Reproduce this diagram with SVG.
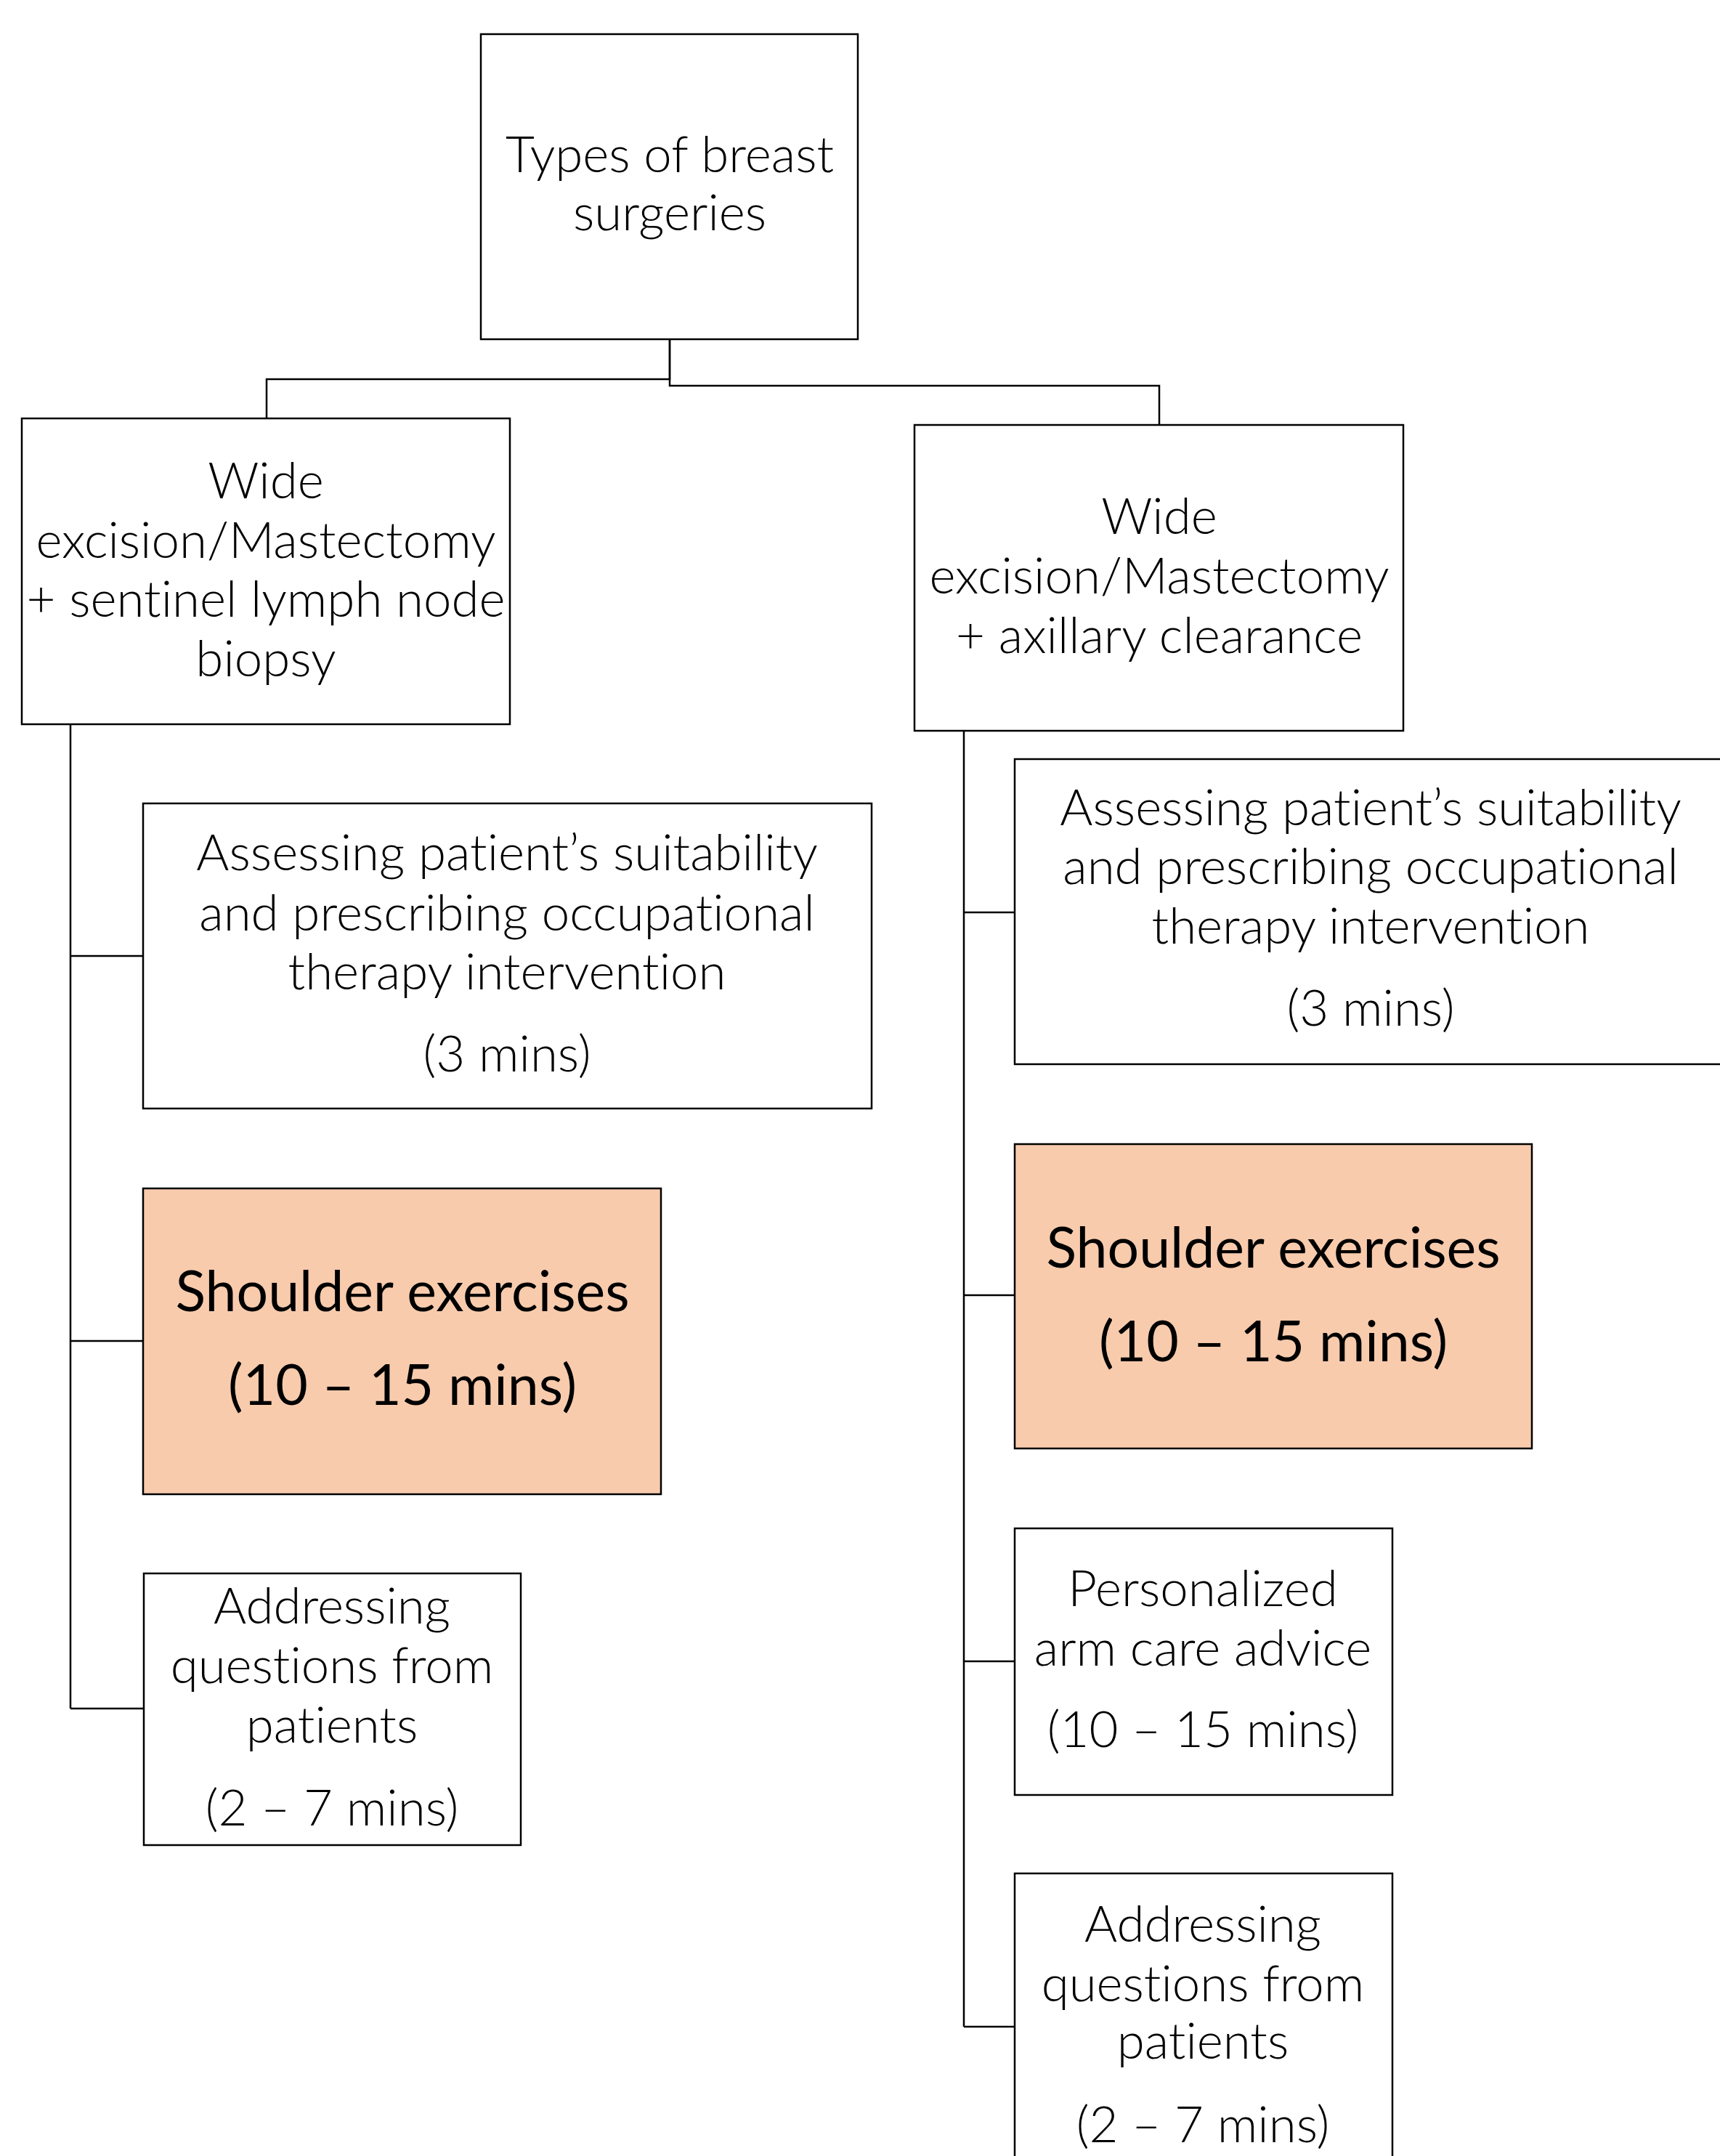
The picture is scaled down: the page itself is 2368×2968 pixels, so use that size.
<svg xmlns="http://www.w3.org/2000/svg" width="2368" height="2968" viewBox="0 0 2368 2968">
<style>
.box{fill:#ffffff;stroke:#000000;stroke-width:2.5}
.hl{fill:#F8CBAD;stroke:#000000;stroke-width:2.5}
.con{fill:none;stroke:#000000;stroke-width:2.5}
text{font-family:Lato,"Liberation Sans",sans-serif;font-weight:300;font-size:69px;fill:#000000;text-anchor:middle;font-variant-ligatures:none}
text.big{font-weight:400;font-size:77px}
</style>
<rect width="2368" height="2968" fill="#ffffff"/>
<g id="connectors">
<path class="con" d="M922,467 V522 H367 V576"/>
<path class="con" d="M922,467 V531 H1596 V585"/>
<path class="con" d="M97,997 V2352"/>
<path class="con" d="M97,1316 H197"/>
<path class="con" d="M97,1846 H197"/>
<path class="con" d="M97,2352 H198"/>
<path class="con" d="M1327,1006 V2790"/>
<path class="con" d="M1327,1256 H1397"/>
<path class="con" d="M1327,1783 H1397"/>
<path class="con" d="M1327,2287 H1397"/>
<path class="con" d="M1327,2790 H1397"/>
</g>
<g id="n-root">
<rect class="box" x="662" y="47" width="519" height="420"/>
<text x="922" y="237">Types of breast</text>
<text x="922" y="317">surgeries</text>
</g>
<g id="n-sln">
<rect class="box" x="30" y="576" width="672" height="421"/>
<text x="366" y="686">Wide</text>
<text x="366" y="768">excision/Mastectomy</text>
<text x="366" y="849">+ sentinel lymph node</text>
<text x="366" y="931">biopsy</text>
</g>
<g id="n-ax">
<rect class="box" x="1259" y="585" width="673" height="421"/>
<text x="1596" y="735">Wide</text>
<text x="1596" y="817">excision/Mastectomy</text>
<text x="1596" y="899">+ axillary clearance</text>
</g>
<g id="n-l-assess">
<rect class="box" x="197" y="1106" width="1003" height="420"/>
<text x="698" y="1198">Assessing patient’s suitability</text>
<text x="698" y="1281">and prescribing occupational</text>
<text x="698" y="1362">therapy intervention</text>
<text x="698" y="1475">(3 mins)</text>
</g>
<g id="n-l-shoulder">
<rect class="hl" x="197" y="1636" width="713" height="421"/>
<text class="big" x="554" y="1805">Shoulder exercises</text>
<text class="big" x="554" y="1934">(10 – 15 mins)</text>
</g>
<g id="n-l-questions">
<rect class="box" x="198" y="2166" width="519" height="374"/>
<text x="457" y="2235">Addressing</text>
<text x="457" y="2317">questions from</text>
<text x="457" y="2399">patients</text>
<text x="457" y="2513">(2 – 7 mins)</text>
</g>
<g id="n-r-assess">
<rect class="box" x="1397" y="1045" width="980" height="420"/>
<text x="1887" y="1136">Assessing patient’s suitability</text>
<text x="1887" y="1217">and prescribing occupational</text>
<text x="1887" y="1299">therapy intervention</text>
<text x="1887" y="1412">(3 mins)</text>
</g>
<g id="n-r-shoulder">
<rect class="hl" x="1397" y="1575" width="712" height="419"/>
<text class="big" x="1753" y="1745">Shoulder exercises</text>
<text class="big" x="1753" y="1874">(10 – 15 mins)</text>
</g>
<g id="n-r-arm">
<rect class="box" x="1397" y="2104" width="520" height="367"/>
<text x="1656" y="2211">Personalized</text>
<text x="1656" y="2293">arm care advice</text>
<text x="1656" y="2405">(10 – 15 mins)</text>
</g>
<g id="n-r-questions">
<rect class="box" x="1397" y="2579" width="520" height="422"/>
<text x="1656" y="2673">Addressing</text>
<text x="1656" y="2755">questions from</text>
<text x="1656" y="2834">patients</text>
<text x="1656" y="2949">(2 – 7 mins)</text>
</g>
</svg>
